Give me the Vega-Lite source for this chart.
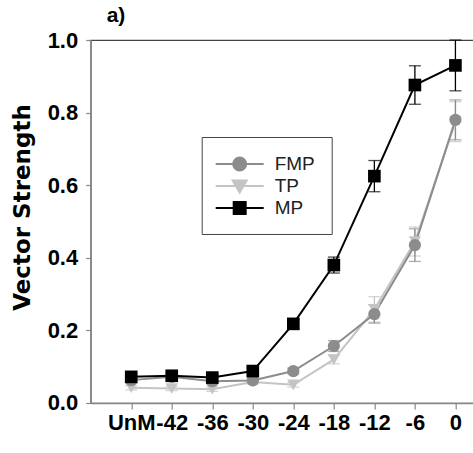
{
  "$schema": "https://vega.github.io/schema/vega-lite/v6.json",
  "width": 385,
  "height": 363,
  "autosize": "none",
  "padding": {"left": 90.7, "top": 40, "right": 0, "bottom": 50},
  "title": {"text": "a)", "anchor": "start", "frame": "group", "dx": 16, "offset": 3, "fontSize": 21, "fontWeight": "bold", "font": "Liberation Sans", "color": "#000"},
  "config": {
    "view": {"stroke": "#444", "strokeWidth": 1.2},
    "axis": {"domainColor": "#888", "domainWidth": 1.5, "tickColor": "#888", "tickWidth": 1.2, "tickSize": 5, "labelFont": "Liberation Sans", "labelFontWeight": "bold", "labelFontSize": 22, "labelColor": "#000", "grid": false},
    "legend": {"orient": "none", "legendX": 111, "legendY": 97, "strokeColor": "#444", "padding": 16, "labelFontSize": 19, "labelFont": "Liberation Sans", "labelColor": "#222", "symbolSize": 400, "symbolOffset": 11, "symbolStrokeWidth": 2, "symbolOpacity": 1, "rowPadding": 0, "labelOffset": 24}
  },
  "data": {"values": [
    {"series": "TP", "t": -48, "vs": 0.042, "err": 0.006},
    {"series": "TP", "t": -42, "vs": 0.040, "err": 0.006},
    {"series": "TP", "t": -36, "vs": 0.038, "err": 0.006},
    {"series": "TP", "t": -30, "vs": 0.058, "err": 0.006},
    {"series": "TP", "t": -24, "vs": 0.050, "err": 0.006},
    {"series": "TP", "t": -18, "vs": 0.120, "err": 0.012},
    {"series": "TP", "t": -12, "vs": 0.258, "err": 0.035},
    {"series": "TP", "t": -6, "vs": 0.445, "err": 0.04},
    {"series": "TP", "t": 0, "vs": 0.775, "err": 0.055},
    {"series": "FMP", "t": -48, "vs": 0.063, "err": 0.006},
    {"series": "FMP", "t": -42, "vs": 0.072, "err": 0.006},
    {"series": "FMP", "t": -36, "vs": 0.060, "err": 0.006},
    {"series": "FMP", "t": -30, "vs": 0.062, "err": 0.006},
    {"series": "FMP", "t": -24, "vs": 0.088, "err": 0.008},
    {"series": "FMP", "t": -18, "vs": 0.157, "err": 0.015},
    {"series": "FMP", "t": -12, "vs": 0.245, "err": 0.025},
    {"series": "FMP", "t": -6, "vs": 0.435, "err": 0.045},
    {"series": "FMP", "t": 0, "vs": 0.780, "err": 0.055},
    {"series": "MP", "t": -48, "vs": 0.072, "err": 0.008},
    {"series": "MP", "t": -42, "vs": 0.075, "err": 0.008},
    {"series": "MP", "t": -36, "vs": 0.070, "err": 0.008},
    {"series": "MP", "t": -30, "vs": 0.088, "err": 0.008},
    {"series": "MP", "t": -24, "vs": 0.218, "err": 0.012},
    {"series": "MP", "t": -18, "vs": 0.380, "err": 0.022},
    {"series": "MP", "t": -12, "vs": 0.625, "err": 0.043},
    {"series": "MP", "t": -6, "vs": 0.876, "err": 0.053},
    {"series": "MP", "t": 0, "vs": 0.930, "err": 0.07}
  ]},
  "encoding": {
    "x": {"field": "t", "type": "quantitative", "scale": {"domain": [-54, 3], "nice": false, "zero": false},
      "axis": {"values": [-48, -42, -36, -30, -24, -18, -12, -6, 0], "labelExpr": "datum.value == -48 ? 'UnM' : '' + datum.value", "title": null, "labelOverlap": false, "labelFlush": false, "labelPadding": 4, "tickSize": 6}},
    "y": {"field": "vs", "type": "quantitative", "scale": {"domain": [0, 1], "nice": false},
      "axis": {"values": [0, 0.2, 0.4, 0.6, 0.8, 1], "format": ".1f", "title": "Vector Strength", "titleFont": "DejaVu Sans", "titleFontWeight": "bold", "titleFontSize": 23, "titleColor": "#000", "titlePadding": 13, "titleY": 167, "labelPadding": 8}}
  },
  "layer": [
    {
      "mark": {"type": "errorbar", "ticks": {"size": 12}, "thickness": 1.3},
      "encoding": {
        "yError": {"field": "err"},
        "color": {"field": "series", "type": "nominal", "scale": {"domain": ["TP", "FMP", "MP"], "range": ["#c4c4c4", "#8c8c8c", "#000000"]}, "legend": null}
      }
    },
    {
      "mark": {"type": "line", "strokeWidth": 2},
      "encoding": {
        "color": {"field": "series", "type": "nominal", "legend": null}
      }
    },
    {
      "transform": [{"filter": "datum.series == 'TP'"}],
      "mark": {"type": "point", "filled": true, "opacity": 1, "size": 150, "shape": "triangle-down"},
      "encoding": {"color": {"field": "series", "type": "nominal", "legend": null}}
    },
    {
      "transform": [{"filter": "datum.series == 'FMP'"}],
      "mark": {"type": "point", "filled": true, "opacity": 1, "size": 150, "shape": "circle"},
      "encoding": {"color": {"field": "series", "type": "nominal", "legend": null}}
    },
    {
      "transform": [{"filter": "datum.series == 'MP'"}],
      "mark": {"type": "point", "filled": true, "opacity": 1, "size": 160, "shape": "square"},
      "encoding": {"color": {"field": "series", "type": "nominal", "legend": null}}
    },
    {
      "transform": [{"filter": "datum.t > 100"}],
      "mark": {"type": "point", "filled": true},
      "encoding": {
        "fill": {"field": "series", "type": "nominal", "scale": {"domain": ["FMP", "TP", "MP"], "range": ["#8c8c8c", "#c4c4c4", "#000000"]}, "legend": {"title": null}},
        "stroke": {"field": "series", "type": "nominal", "scale": {"domain": ["FMP", "TP", "MP"], "range": ["#8c8c8c", "#c4c4c4", "#000000"]}, "legend": {"title": null}},
        "shape": {"field": "series", "type": "nominal", "scale": {"domain": ["FMP", "TP", "MP"], "range": ["M-2.4,0H2.4M-0.65,0A0.65,0.65,0,1,1,0.65,0A0.65,0.65,0,1,1,-0.65,0Z", "M-2.4,0H2.4M-0.7,-0.55H0.7L0,0.65Z", "M-2.4,0H2.4M-0.6,-0.6H0.6V0.6H-0.6Z"]}, "legend": {"title": null}}
      }
    }
  ]
}
